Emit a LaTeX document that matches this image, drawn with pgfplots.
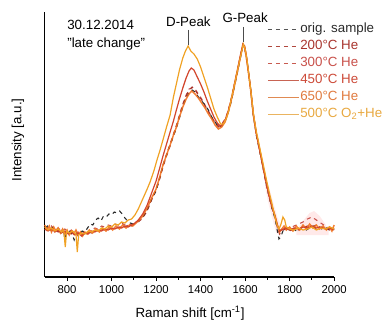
\documentclass[border=0pt]{standalone}
\usepackage{pgfplots}
\pgfplotsset{compat=1.18}
\usepackage{fontspec}
\setmainfont{Liberation Sans}
\definecolor{corig}{HTML}{2A2A2A}
\definecolor{ctwo}{HTML}{A8352E}
\definecolor{cthree}{HTML}{C8504A}
\definecolor{cfour}{HTML}{D2452C}
\definecolor{csix}{HTML}{F2711E}
\definecolor{cfive}{HTML}{F0A224}
\definecolor{lorig}{HTML}{555555}
\definecolor{ltwo}{HTML}{B0483E}
\definecolor{lthree}{HTML}{C85A50}
\definecolor{lfour}{HTML}{C86454}
\definecolor{lsix}{HTML}{E08A52}
\definecolor{lfive}{HTML}{EAB460}
\definecolor{tfour}{HTML}{CC4A38}
\definecolor{tsix}{HTML}{E07A3E}
\definecolor{tfive}{HTML}{E8A840}
\begin{document}
\begin{tikzpicture}
\path[use as bounding box] (-33.6pt,-36pt) rectangle (254.4pt,207.75pt);
\begin{axis}[
  at={(0,0)}, anchor=south west,
  scale only axis, width=217pt, height=198.75pt,
  xmin=700, xmax=2000, ymin=0, ymax=265,
  axis x line*=bottom, axis y line*=left,
  axis line style={line width=0.8pt, -},
  xtick={800,1000,...,2000}, minor x tick num=1,
  ytick=\empty,
  tick align=outside, tick pos=left,
  major tick length=3pt, minor tick length=2pt,
  every tick/.style={black, line width=0.6pt},
  /pgf/number format/assume math mode=true,
  /pgf/number format/1000 sep={},
  tick label style={font=\fontsize{8.5}{10}\selectfont},
  xlabel={Raman shift [cm\textsuperscript{-1}]},
  ylabel={Intensity [a.u.]},
  label style={font=\fontsize{10}{12}\selectfont},
  xlabel style={at={(axis description cs:0.502,0)}, anchor=center, yshift=-27pt},
  ylabel style={at={(axis description cs:-0.0925,0.517)}, anchor=center, rotate=0},
  legend style={at={(axis description cs:0.755,0.975)}, anchor=north west, draw=none, fill=none,
    font=\fontsize{10}{12}\selectfont, row sep=1.25pt,
    nodes={inner sep=1pt, text height=7.5pt, text depth=2pt}},
  legend cell align=left,
  legend image code/.code={\draw[#1] (0pt,0pt) -- (23pt,0pt);},
  clip=false,
]
\addlegendimage{lorig, dashed, line width=0.6pt}
\addlegendentry{\textcolor{corig}{orig. sample}}
\addlegendimage{ltwo, dashed, line width=0.6pt}
\addlegendentry{\textcolor{ctwo}{200°C He}}
\addlegendimage{lthree, dashed, line width=0.6pt}
\addlegendentry{\textcolor{cthree}{300°C He}}
\addlegendimage{lfour, line width=0.6pt}
\addlegendentry{\textcolor{tfour}{450°C He}}
\addlegendimage{lsix, line width=0.6pt}
\addlegendentry{\textcolor{tsix}{650°C He}}
\addlegendimage{lfive, line width=0.6pt}
\addlegendentry{\textcolor{tfive}{500°C O\textsubscript{2}+He}}

% faint error bands
\addplot[fill=red!12, draw=none, opacity=0.7, forget plot] coordinates {
(1830,46) (1860,56) (1890,64) (1910,66) (1935,61) (1960,53) (1975,46) (1975,42) (1830,42)} -- cycle;
\addplot[fill=red!10, draw=none, opacity=0.7, forget plot] coordinates {
(1690,100) (1710,88) (1730,72) (1745,60) (1760,52) (1760,40) (1740,44) (1720,60) (1700,78) (1690,90)} -- cycle;

% 300 C He
\addplot[cthree, dashed, line width=0.8pt, forget plot] coordinates {
(700,50) (715,48) (730,51) (745,47) (760,49) (775,46) (790,48) (805,45) (820,47) (835,43) (850,45) (865,42) (880,46) (895,44) (910,47) (925,49) (940,48) (955,51) (970,50) (985,52) (1000,51) (1015,53) (1030,52) (1045,54) (1060,52) (1075,53) (1090,52) (1105,54) (1120,56) (1140,60) (1160,67) (1180,78) (1200,88) (1215,99) (1231,111) (1247,123) (1263,133) (1278,143) (1290,151) (1305,162) (1320,173) (1335,182) (1348,188) (1362,189) (1375,188) (1390,183) (1405,178) (1420,172) (1435,165) (1450,159) (1465,155) (1480,151) (1495,153) (1510,158) (1522,165) (1535,176) (1550,191) (1565,206) (1578,220) (1590,233) (1598,230) (1606,219) (1614,206) (1625,188) (1637,163) (1650,145) (1665,128) (1682,108) (1695,94) (1708,81) (1720,70) (1735,60) (1745,51) (1755,46) (1765,48) (1780,50) (1800,49) (1820,51) (1840,53) (1860,55) (1880,58) (1900,60) (1920,57) (1940,54) (1960,51) (1980,49) (2000,50)};

% 200 C He
\addplot[ctwo, dashed, line width=0.8pt, forget plot] coordinates {
(700,47) (715,50) (730,46) (745,48) (760,45) (775,47) (790,44) (805,46) (820,43) (835,45) (850,41) (865,44) (880,43) (895,45) (910,44) (925,47) (940,46) (955,48) (970,47) (985,49) (1000,48) (1015,50) (1030,49) (1045,51) (1060,50) (1075,52) (1090,51) (1105,53) (1120,55) (1140,59) (1160,66) (1180,77) (1200,87) (1215,97) (1231,110) (1247,121) (1263,131) (1278,142) (1290,150) (1305,161) (1320,172) (1335,181) (1348,187) (1362,190) (1375,187) (1390,182) (1405,177) (1420,171) (1435,166) (1450,160) (1465,154) (1480,150) (1495,152) (1510,157) (1522,164) (1535,175) (1550,190) (1565,205) (1578,219) (1590,232) (1598,229) (1606,218) (1614,205) (1625,186) (1637,161) (1650,143) (1665,127) (1682,107) (1695,92) (1708,80) (1720,70) (1735,59) (1745,49) (1755,43) (1765,46) (1780,48) (1800,46) (1820,48) (1840,47) (1860,49) (1880,51) (1900,50) (1920,52) (1940,49) (1960,50) (1980,47) (2000,49)};

% orig sample
\addplot[corig, dashed, line width=0.8pt, forget plot] coordinates {
(700,49) (712,51) (724,47) (736,50) (748,46) (760,48) (772,44) (784,47) (790,38) (796,43) (808,46) (820,45) (832,37) (844,44) (856,42) (868,46) (880,45) (892,49) (904,53) (916,52) (928,57) (940,59) (952,56) (964,61) (976,60) (988,63) (1000,62) (1012,65) (1024,64) (1036,66) (1048,63) (1060,59) (1072,56) (1084,54) (1096,53) (1108,55) (1120,56) (1140,60) (1160,68) (1180,78) (1200,86) (1215,98) (1231,112) (1247,122) (1263,132) (1278,141) (1290,148) (1305,159) (1320,170) (1335,179) (1348,184) (1362,187) (1375,185) (1390,180) (1405,176) (1420,172) (1435,167) (1450,160) (1465,155) (1480,150) (1495,151) (1510,156) (1522,163) (1535,173) (1550,188) (1565,204) (1578,218) (1590,231) (1598,230) (1606,220) (1614,207) (1625,187) (1637,162) (1650,142) (1665,126) (1682,108) (1695,93) (1708,80) (1720,69) (1735,58) (1745,46) (1752,38) (1760,40) (1770,46) (1785,49) (1800,47) (1815,49) (1830,46) (1845,48) (1860,50) (1875,47) (1890,49) (1905,51) (1920,48) (1935,50) (1950,47) (1965,49) (1980,46) (2000,48)};

% 650 C He
\addplot[csix, line width=1.1pt, opacity=0.9, forget plot] coordinates {
(700,52) (710,47) (720,51) (730,45) (740,50) (750,46) (760,49) (770,44) (780,48) (790,43) (800,47) (810,42) (820,46) (830,43) (840,47) (850,42) (860,45) (870,41) (880,45) (890,43) (900,47) (915,44) (930,48) (945,45) (960,49) (975,46) (990,50) (1005,47) (1020,51) (1035,48) (1050,52) (1065,49) (1080,52) (1095,51) (1110,54) (1125,57) (1140,61) (1160,69) (1180,79) (1200,88) (1215,99) (1231,112) (1247,122) (1263,132) (1278,142) (1290,149) (1305,160) (1320,170) (1335,178) (1348,183) (1360,186) (1375,183) (1390,179) (1405,174) (1420,169) (1435,163) (1450,158) (1465,152) (1480,148) (1495,150) (1510,155) (1522,163) (1535,174) (1550,189) (1565,205) (1578,219) (1590,231) (1598,230) (1606,219) (1614,206) (1625,187) (1637,162) (1650,144) (1665,128) (1682,109) (1695,95) (1708,82) (1720,71) (1735,61) (1745,52) (1755,45) (1765,48) (1775,51) (1785,47) (1800,50) (1815,46) (1830,51) (1845,47) (1860,52) (1875,48) (1890,53) (1905,49) (1920,52) (1935,48) (1950,51) (1965,47) (1980,50) (1990,46) (2000,52)};

% 450 C He
\addplot[cfour, line width=0.9pt, forget plot] coordinates {
(700,48) (715,46) (730,49) (745,45) (760,47) (775,44) (790,46) (805,43) (820,45) (835,42) (850,44) (865,41) (880,44) (895,43) (910,46) (925,45) (940,47) (955,46) (970,48) (985,47) (1000,49) (1015,48) (1030,50) (1045,49) (1060,51) (1075,50) (1090,52) (1105,54) (1120,57) (1140,63) (1160,72) (1180,84) (1200,96) (1215,108) (1231,121) (1247,133) (1263,145) (1278,156) (1290,166) (1305,178) (1320,189) (1335,199) (1348,206) (1358,209) (1370,207) (1385,200) (1400,193) (1415,185) (1430,176) (1445,168) (1460,160) (1475,154) (1488,151) (1500,153) (1512,158) (1524,166) (1537,177) (1550,191) (1565,207) (1578,221) (1590,233) (1598,231) (1606,221) (1614,207) (1625,188) (1637,163) (1650,144) (1665,127) (1682,109) (1695,94) (1708,81) (1720,71) (1735,60) (1745,52) (1755,46) (1765,47) (1780,49) (1800,47) (1820,49) (1840,48) (1860,50) (1880,49) (1900,51) (1920,49) (1940,50) (1960,48) (1980,49) (2000,47)};

% 500 C O2+He
\addplot[cfive, line width=0.9pt, forget plot] coordinates {
(700,50) (715,47) (730,49) (745,46) (760,48) (775,45) (785,47) (792,30) (798,46) (810,44) (825,46) (840,43) (846,25) (852,42) (865,44) (880,43) (895,46) (910,45) (925,47) (940,46) (955,49) (970,48) (985,51) (1000,50) (1015,53) (1030,52) (1045,55) (1060,54) (1075,57) (1090,58) (1105,62) (1120,68) (1140,78) (1160,88) (1173,95) (1190,106) (1204,117) (1218,127) (1232,138) (1247,150) (1263,162) (1278,180) (1290,192) (1305,207) (1320,219) (1332,226) (1344,231) (1356,226) (1370,223) (1385,218) (1400,210) (1415,200) (1430,190) (1445,179) (1460,168) (1475,160) (1490,153) (1502,153) (1514,158) (1526,166) (1538,178) (1552,192) (1566,207) (1580,221) (1592,233) (1600,228) (1608,218) (1616,204) (1626,186) (1638,162) (1650,146) (1665,130) (1682,112) (1695,98) (1708,85) (1720,74) (1732,62) (1742,53) (1752,48) (1760,52) (1770,60) (1778,57) (1785,50) (1800,48) (1820,47) (1840,49) (1860,47) (1880,48) (1900,50) (1920,47) (1940,49) (1960,48) (1980,50) (2000,48)};

% annotations
\draw[black!70, line width=0.5pt] (axis cs:1344,247) -- (axis cs:1344,232);
\draw[black!70, line width=0.5pt] (axis cs:1592,250) -- (axis cs:1592,235);
\node[font=\fontsize{10}{12}\selectfont, anchor=base] at (axis cs:1345,250) {D-Peak};
\node[font=\fontsize{10}{12}\selectfont, anchor=base] at (axis cs:1600,254) {G-Peak};
\node[font=\fontsize{10}{12}\selectfont, anchor=base west, inner sep=0pt] at (axis cs:800,247) {30.12.2014};
\node[font=\fontsize{10}{12}\selectfont, anchor=base west, inner sep=0pt] at (axis cs:800,229) {"late change"};
\end{axis}
\end{tikzpicture}
\end{document}
